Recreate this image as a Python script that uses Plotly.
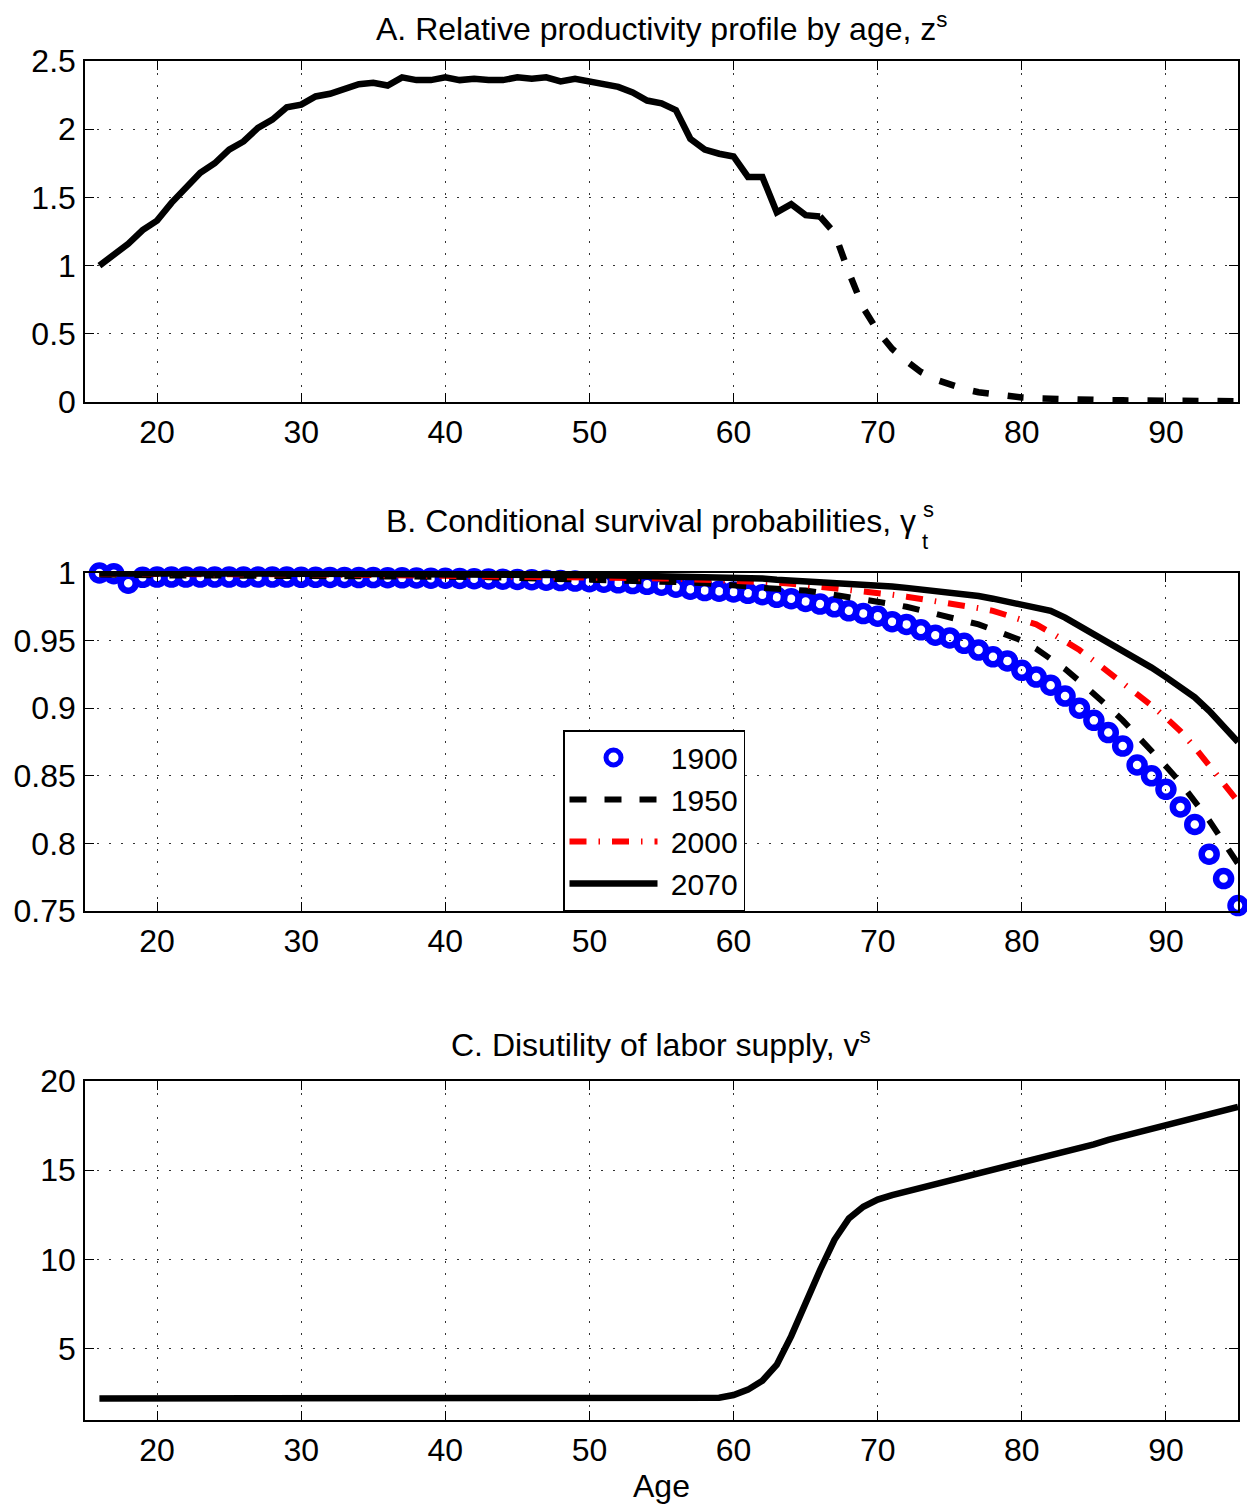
import plotly.graph_objects as go

# ---------------- data ----------------
ages = list(range(16, 96))
ages_work = list(range(16, 67))
ages_ret = list(range(66, 96))

z_work = [1.00, 1.08, 1.16, 1.26, 1.33, 1.46, 1.57, 1.68, 1.75, 1.85,
          1.91, 2.01, 2.07, 2.16, 2.18, 2.24, 2.26, 2.29, 2.33, 2.34,
          2.32, 2.38, 2.36, 2.36, 2.38, 2.36, 2.37, 2.36, 2.36, 2.38,
          2.37, 2.38, 2.35, 2.37, 2.35, 2.34, 2.31, 2.27, 2.21, 2.19,
          2.14, 1.93, 1.85, 1.82, 1.80, 1.65, 1.65, 1.39, 1.45, 1.37,
          1.36]
z_ret = [1.36, 1.24, 0.95, 0.69, 0.52, 0.39, 0.30, 0.22, 0.165, 0.125,
         0.095, 0.072, 0.055, 0.042, 0.033, 0.027, 0.022, 0.019, 0.016, 0.014,
         0.013, 0.012, 0.011, 0.010, 0.009, 0.008, 0.008, 0.007, 0.007, 0.006]

gamma_1900 = [1.000, 0.9995, 0.9925, 0.9968, 0.997, 0.997, 0.997, 0.997, 0.997, 0.997,
              0.997, 0.997, 0.997, 0.997, 0.9968, 0.9968, 0.9967, 0.9967, 0.9966, 0.9966,
              0.9965, 0.9964, 0.9963, 0.9962, 0.9961, 0.996, 0.9958, 0.9956, 0.9954, 0.9952,
              0.995, 0.9947, 0.9944, 0.994, 0.9936, 0.9932, 0.9927, 0.9922, 0.9916, 0.991,
              0.9895, 0.988, 0.987, 0.9865, 0.986, 0.985, 0.984, 0.982, 0.981, 0.979,
              0.977, 0.975, 0.972, 0.970, 0.968, 0.964, 0.962, 0.958, 0.954, 0.952,
              0.948, 0.943, 0.938, 0.935, 0.928, 0.923, 0.917, 0.909, 0.900, 0.891,
              0.882, 0.872, 0.858, 0.850, 0.840, 0.827, 0.814, 0.792, 0.774, 0.754]
gamma_1950 = [0.9988, 0.9985, 0.9982, 0.9982, 0.9982, 0.9982, 0.9982, 0.9982, 0.9982, 0.9982,
              0.9982, 0.9981, 0.9981, 0.9980, 0.9980, 0.9979, 0.9979, 0.9978, 0.9977, 0.9977,
              0.9976, 0.9976, 0.9975, 0.9975, 0.9975, 0.9973, 0.9971, 0.9969, 0.9967, 0.9965,
              0.9963, 0.9961, 0.9959, 0.9957, 0.9955, 0.9952, 0.9949, 0.9946, 0.9943, 0.994,
              0.9935, 0.993, 0.9925, 0.992, 0.991, 0.990, 0.989, 0.9885, 0.988, 0.987,
              0.9855, 0.984, 0.982, 0.9805, 0.979, 0.977, 0.975, 0.9725, 0.970, 0.968,
              0.965, 0.962, 0.958, 0.954, 0.950, 0.944, 0.937, 0.929, 0.920, 0.911,
              0.901, 0.891, 0.880, 0.869, 0.857, 0.845, 0.831, 0.817, 0.801, 0.785]
gamma_2000 = [0.9993, 0.9992, 0.9991, 0.9991, 0.9991, 0.9991, 0.9991, 0.9991, 0.9991, 0.9991,
              0.9991, 0.9991, 0.9990, 0.9990, 0.9990, 0.9990, 0.9989, 0.9989, 0.9989, 0.9988,
              0.9988, 0.9987, 0.9987, 0.9986, 0.9985, 0.9984, 0.9983, 0.9982, 0.9981, 0.998,
              0.9978, 0.9976, 0.9974, 0.9972, 0.997, 0.9968, 0.9966, 0.9964, 0.9962, 0.996,
              0.9957, 0.9954, 0.9951, 0.9948, 0.9945, 0.994, 0.9935, 0.993, 0.992, 0.991,
              0.990, 0.989, 0.988, 0.9865, 0.985, 0.984, 0.9825, 0.981, 0.9795, 0.978,
              0.976, 0.974, 0.972, 0.969, 0.966, 0.962, 0.956, 0.950, 0.943, 0.935,
              0.927, 0.919, 0.910, 0.902, 0.893, 0.883, 0.871, 0.858, 0.845, 0.831]
gamma_2070 = [0.9997, 0.9996, 0.9996, 0.9996, 0.9996, 0.9996, 0.9996, 0.9996, 0.9996, 0.9996,
              0.9996, 0.9996, 0.9996, 0.9995, 0.9995, 0.9995, 0.9995, 0.9995, 0.9994, 0.9994,
              0.9994, 0.9993, 0.9993, 0.9992, 0.9992, 0.9991, 0.9991, 0.999, 0.999, 0.9989,
              0.9988, 0.9987, 0.9986, 0.9985, 0.9984, 0.9983, 0.9982, 0.9981, 0.998, 0.9978,
              0.9976, 0.9974, 0.9972, 0.997, 0.997, 0.9965, 0.996, 0.995, 0.9945, 0.994,
              0.9935, 0.993, 0.992, 0.9915, 0.991, 0.990, 0.989, 0.988, 0.987, 0.986,
              0.985, 0.983, 0.981, 0.979, 0.977, 0.975, 0.972, 0.967, 0.961, 0.955,
              0.948, 0.942, 0.936, 0.930, 0.923, 0.916, 0.908, 0.898, 0.887, 0.875]

v_s = [2.2, 2.2, 2.2, 2.2, 2.2, 2.2, 2.2, 2.2, 2.2, 2.2,
       2.2, 2.2, 2.2, 2.2, 2.2, 2.2, 2.2, 2.2, 2.2, 2.2,
       2.2, 2.2, 2.2, 2.2, 2.2, 2.2, 2.2, 2.2, 2.2, 2.2,
       2.2, 2.2, 2.2, 2.2, 2.2, 2.2, 2.2, 2.2, 2.2, 2.2,
       2.2, 2.2, 2.21, 2.25, 2.4, 2.7, 3.2, 4.1, 5.7, 7.6,
       9.4, 11.1, 12.3, 12.95, 13.35, 13.6, 13.8, 14.0, 14.2, 14.4,
       14.65, 14.85, 15.05, 15.25, 15.45, 15.65, 15.85, 16.05, 16.25, 16.45,
       16.7, 16.9, 17.1, 17.3, 17.5, 17.75, 17.95, 18.15, 18.35, 18.55]

legend_names = ["1900", "1950", "2000", "2070"]
x_ticks = [20, 30, 40, 50, 60, 70, 80, 90]

# ---------------- figure ----------------
FONT = "Liberation Sans, Arial, Helvetica, sans-serif"
NB = "\u00a0"
fig = go.Figure()

# Panel A
fig.add_trace(go.Scatter(x=ages_work, y=z_work, mode="lines", xaxis="x", yaxis="y",
                         line=dict(color="black", width=6.5), showlegend=False))
fig.add_trace(go.Scatter(x=ages_ret, y=z_ret, mode="lines", xaxis="x", yaxis="y",
                         line=dict(color="black", width=6.5, dash="16px,19px"), showlegend=False))

# Panel B
fig.add_trace(go.Scatter(x=ages, y=gamma_1900, mode="markers", xaxis="x2", yaxis="y2",
                         name=NB + legend_names[0], cliponaxis=False,
                         marker=dict(symbol="circle-open", size=15, color="#0000ff",
                                     line=dict(width=6.5, color="#0000ff"))))
fig.add_trace(go.Scatter(x=ages, y=gamma_1950, mode="lines", xaxis="x2", yaxis="y2",
                         name=NB + legend_names[1],
                         line=dict(color="black", width=6, dash="17px,18px")))
fig.add_trace(go.Scatter(x=ages, y=gamma_2000, mode="lines", xaxis="x2", yaxis="y2",
                         name=NB + legend_names[2],
                         line=dict(color="#ff0000", width=6, dash="17px,12px,1.5px,12px")))
fig.add_trace(go.Scatter(x=ages, y=gamma_2070, mode="lines", xaxis="x2", yaxis="y2",
                         name=NB + legend_names[3],
                         line=dict(color="black", width=6.5)))

# Panel C
fig.add_trace(go.Scatter(x=ages, y=v_s, mode="lines", xaxis="x3", yaxis="y3",
                         line=dict(color="black", width=6.5), showlegend=False))

TICK_SIZE = 32
axis_common = dict(showline=True, linecolor="black", linewidth=1.5, mirror="ticks",
                   ticks="inside", ticklen=9, tickwidth=1.3, tickcolor="black",
                   showgrid=True, gridcolor="#333333", gridwidth=1, griddash="2px,10px",
                   zeroline=False, ticklabelstandoff=1, automargin=False,
                   tickfont=dict(family=FONT, size=TICK_SIZE, color="black"))

xcommon = dict(axis_common, range=[15, 95], tickvals=x_ticks)

# page offset of the plot div (body margin)
OFF = 8
W, H = 1247, 1498
ML, MR, MT, MB = 85 - OFF, W - (1238 - OFF), 61 - OFF, H - (1420 - OFF)
plot_h = H - MT - MB
plot_w = W - ML - MR


def py(Y):
    return (H - MB - (Y - OFF)) / plot_h


def px(X):
    return ((X - OFF) - ML) / plot_w


fig.update_layout(
    width=W, height=H,
    margin=dict(l=ML, r=MR, t=MT, b=MB, autoexpand=False),
    plot_bgcolor="white", paper_bgcolor="white",
    font=dict(family=FONT, size=TICK_SIZE, color="black"),
    xaxis=dict(xcommon, domain=[0, 1], anchor="y"),
    yaxis=dict(axis_common, domain=[py(402), py(61)], range=[0, 2.5], dtick=0.5, anchor="x"),
    xaxis2=dict(xcommon, domain=[0, 1], anchor="y2"),
    yaxis2=dict(axis_common, domain=[py(911), py(573)], range=[0.75, 1.0],
                tickvals=[0.75, 0.8, 0.85, 0.9, 0.95, 1.0],
                ticktext=["0.75", "0.8", "0.85", "0.9", "0.95", "1"], anchor="x2"),
    xaxis3=dict(xcommon, domain=[0, 1], anchor="y3"),
    yaxis3=dict(axis_common, domain=[py(1420), py(1081)], range=[1, 20],
                tickvals=[5, 10, 15, 20], anchor="x3"),
    showlegend=True,
    legend=dict(x=px(563), y=py(730), xanchor="left", yanchor="top",
                bordercolor="black", borderwidth=1.5, bgcolor="white",
                font=dict(family=FONT, size=30, color="black"),
                itemwidth=88, tracegroupgap=0),
)

title_font = dict(family=FONT, size=32, color="black")
annotations = [
    dict(text="A. Relative productivity profile by age, z<sup>s</sup>", x=px(661), y=py(27),
         xref="paper", yref="paper", xanchor="center", yanchor="middle",
         showarrow=False, font=title_font),
    dict(text="B. Conditional survival probabilities, γ", x=px(918), y=py(521),
         xref="paper", yref="paper", xanchor="right", yanchor="middle",
         showarrow=False, font=title_font),
    dict(text="s", x=px(921), y=py(509), xref="paper", yref="paper",
         xanchor="left", yanchor="middle", showarrow=False,
         font=dict(family=FONT, size=22, color="black")),
    dict(text="t", x=px(920), y=py(541), xref="paper", yref="paper",
         xanchor="left", yanchor="middle", showarrow=False,
         font=dict(family=FONT, size=22, color="black")),
    dict(text="C. Disutility of labor supply, v<sup>s</sup>", x=px(661), y=py(1043),
         xref="paper", yref="paper", xanchor="center", yanchor="middle",
         showarrow=False, font=title_font),
    dict(text="Age", x=px(661), y=py(1486), xref="paper", yref="paper",
         xanchor="center", yanchor="middle", showarrow=False, font=title_font),
]
fig.update_layout(annotations=annotations)

fig.write_html("out.html")
